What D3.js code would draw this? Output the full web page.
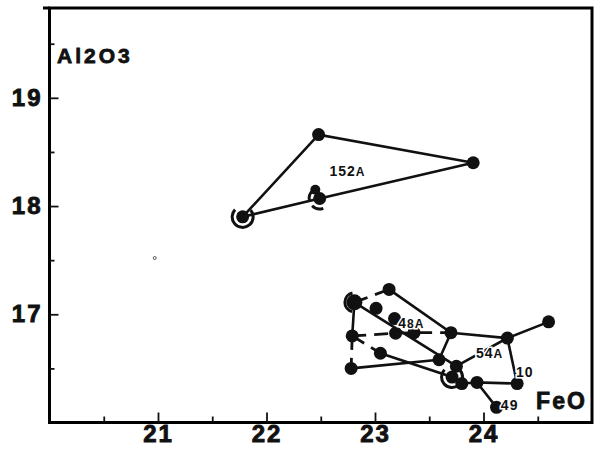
<!DOCTYPE html>
<html>
<head>
<meta charset="utf-8">
<script src="https://cdn.jsdelivr.net/npm/d3@7"></script>
<style>
  html, body { margin: 0; padding: 0; background: #fff; overflow: hidden; }
  svg { display: block; }
  svg text { font-family: "Liberation Sans", Arial, sans-serif; font-weight: bold; fill: #111; }
</style>
</head>
<body>
<div id="chart"></div>
<script>
// FeO (x) vs Al2O3 (y)
var xMajor = [21, 22, 23, 24];
var xMinor = [20.5, 21.5, 22.5, 23.5, 24.5];
var yMajor = [17, 18, 19];
var yMinor = [16.5, 17.5, 18.5, 19.5];

// sample 152A
var pts152A = {
  a: [21.78, 17.90],
  b: [22.48, 18.66],
  c: [23.905, 18.40],
  d: [22.49, 18.07],
  e: [22.45, 18.15]
};
var solid152A = ["a b c d a", "e d"];

// cluster of samples 48A / 54A / 10 / 49
var ptsCluster = {
  A: [23.13, 17.23],
  B: [22.81, 17.11],
  C: [23.01, 17.055],
  D: [23.18, 16.96],
  E: [23.19, 16.825],
  F: [23.36, 16.83],
  G: [23.70, 16.83],
  H: [22.79, 16.80],
  I: [24.22, 16.78],
  J: [24.60, 16.93],
  K: [23.05, 16.64],
  L: [23.59, 16.58],
  M: [23.75, 16.52],
  N: [23.71, 16.42],
  O: [23.80, 16.36],
  P: [22.78, 16.50],
  Q: [23.94, 16.37],
  R: [24.31, 16.36],
  S: [24.12, 16.14]
};
var solidCluster = ["A G L", "B M", "G I J", "M I R Q S", "K N O Q", "P L", "B H"];
var dashedCluster = ["B A", "H E F G", "H K", "H P"];

var ringed = [[21.78, 17.90], [22.49, 18.07], [23.71, 16.42]];
var specks = [[20.97, 17.52]];

var labels = [
  {t: "152", s: "A", x: 22.58, y: 18.28},
  {t: "4", s: "8A", x: 23.215, y: 16.87},
  {t: "54", s: "A", x: 23.93, y: 16.595},
  {t: "10", s: "", x: 24.30, y: 16.42},
  {t: "49", s: "", x: 24.16, y: 16.115}
];

var W = 600, H = 455;
var svg = d3.select("#chart").append("svg")
  .attr("width", W).attr("height", H);

var x = d3.scaleLinear().domain([20, 25]).range([49.5, 592]);
var y = d3.scaleLinear().domain([16, 19.83]).range([422.5, 8]);

// frame
svg.append("rect")
  .attr("x", x(20)).attr("y", y(19.83))
  .attr("width", x(25) - x(20)).attr("height", y(16) - y(19.83))
  .attr("fill", "none").attr("stroke", "#000").attr("stroke-width", 3);
svg.append("rect")
  .attr("x", 43).attr("y", y(19.83) - 1.5)
  .attr("width", x(20) - 43).attr("height", 3).attr("fill", "#000");

// axes (ticks pointing inward)
var gx = svg.append("g").attr("transform", "translate(0," + y(16) + ")");
gx.call(d3.axisBottom(x).tickValues(xMajor).tickSize(-10).tickPadding(6).tickFormat(d3.format("d")));
gx.append("g").call(d3.axisBottom(x).tickValues(xMinor).tickSize(-6).tickFormat(""));
gx.selectAll(".domain").remove();
gx.selectAll("line").attr("stroke", "#111").attr("stroke-width", 1.8);
gx.selectAll("text").attr("font-size", 24).attr("dy", "0.55em").attr("letter-spacing", 2)
  .attr("stroke", "#111").attr("stroke-width", 0.9)
  .attr("font-family", "Liberation Sans, Arial, sans-serif").attr("font-weight", "bold").attr("fill", "#111");

var gy = svg.append("g").attr("transform", "translate(" + x(20) + ",0)");
gy.call(d3.axisLeft(y).tickValues(yMajor).tickSize(-9).tickPadding(8).tickFormat(d3.format("d")));
gy.append("g").call(d3.axisLeft(y).tickValues(yMinor).tickSize(-5).tickFormat(""));
gy.selectAll(".domain").remove();
gy.selectAll("line").attr("stroke", "#111").attr("stroke-width", 1.8);
gy.selectAll("text").attr("font-size", 24).attr("x", -7).attr("letter-spacing", 2)
  .attr("stroke", "#111").attr("stroke-width", 0.9)
  .attr("font-family", "Liberation Sans, Arial, sans-serif").attr("font-weight", "bold").attr("fill", "#111");

// axis titles
svg.append("text").attr("x", x(20.07)).attr("y", y(19.32))
  .attr("font-size", 21).attr("letter-spacing", 3)
  .attr("stroke", "#111").attr("stroke-width", 0.8).text("Al2O3");
svg.append("text").attr("x", x(24.485)).attr("y", y(16.125))
  .attr("font-size", 23).attr("letter-spacing", 2)
  .attr("stroke", "#111").attr("stroke-width", 0.8).text("FeO");

var line = d3.line().x(function(d) { return x(d[0]); }).y(function(d) { return y(d[1]); });
function path(pts, names) {
  return names.split(" ").map(function(n) { return pts[n]; });
}

var gl = svg.append("g").attr("fill", "none").attr("stroke", "#111").attr("stroke-linecap", "round");
solid152A.forEach(function(s, i) {
  gl.append("path").attr("d", line(path(pts152A, s))).attr("stroke-width", i === 0 ? 2.6 : 2);
});
solidCluster.forEach(function(s) {
  gl.append("path").attr("d", line(path(ptsCluster, s))).attr("stroke-width", 2.6);
});
dashedCluster.forEach(function(s) {
  gl.append("path").attr("d", line(path(ptsCluster, s))).attr("stroke-width", 2.8)
    .attr("stroke-dasharray", "14,8").attr("stroke-linecap", "butt");
});

// rings
svg.selectAll(".ring").data(ringed).enter().append("circle")
  .attr("class", "ring")
  .attr("cx", function(d) { return x(d[0]); })
  .attr("cy", function(d) { return y(d[1]); })
  .attr("r", 10.5)
  .attr("fill", "none").attr("stroke", "#111").attr("stroke-width", 3)
  .attr("stroke-dasharray", function(d, i) { return i === 1 ? "0,20,12,5,12,30" : "48,18"; })
  .attr("transform", function(d) { return "rotate(-40," + x(d[0]) + "," + y(d[1]) + ")"; });

// crescent on the big blob B
var arc = d3.arc().innerRadius(8).outerRadius(11).startAngle(-2.9).endAngle(-0.2);
svg.append("path").attr("d", arc())
  .attr("transform", "translate(" + x(ptsCluster.B[0]) + "," + y(ptsCluster.B[1]) + ")")
  .attr("fill", "#111");

// dots
var allPts = Object.values(pts152A).concat(Object.values(ptsCluster));
svg.selectAll(".dot").data(allPts).enter().append("circle")
  .attr("class", "dot")
  .attr("cx", function(d) { return x(d[0]); })
  .attr("cy", function(d) { return y(d[1]); })
  .attr("r", function(d) { return d === pts152A.e ? 5 : (d === ptsCluster.B ? 8 : 6.5); })
  .attr("fill", "#111");

svg.selectAll(".speck").data(specks).enter().append("circle")
  .attr("cx", function(d) { return x(d[0]); })
  .attr("cy", function(d) { return y(d[1]); })
  .attr("r", 1.5).attr("fill", "none").attr("stroke", "#333").attr("stroke-width", 0.8);

// sample labels
var lt = svg.selectAll(".lab").data(labels).enter().append("text")
  .attr("class", "lab")
  .attr("x", function(d) { return x(d.x); })
  .attr("y", function(d) { return y(d.y); })
  .attr("font-size", 14).attr("letter-spacing", 1)
  .attr("stroke", "#fff").attr("stroke-width", 3).attr("paint-order", "stroke");
lt.append("tspan").text(function(d) { return d.t; });
lt.append("tspan").attr("font-size", 12).text(function(d) { return d.s; });
</script>
</body>
</html>
